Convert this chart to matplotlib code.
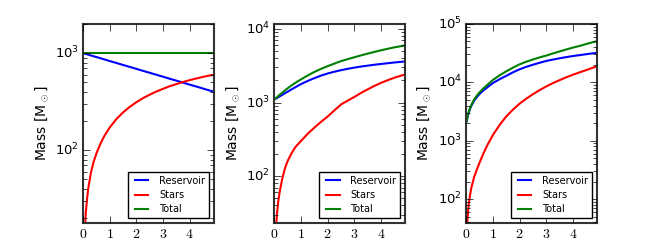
import matplotlib
matplotlib.use("Agg")
import matplotlib.pyplot as plt
from matplotlib.ticker import FuncFormatter, LogFormatterMathtext

plt.style.use("classic")
plt.rcParams["mathtext.fontset"] = "cm"

# time samples
t = [0.02, 0.05, 0.1, 0.15, 0.2, 0.3, 0.4, 0.5, 0.65, 0.8, 1.0, 1.25, 1.5, 1.75,
     2.0, 2.25, 2.5, 2.75, 3.0, 3.25, 3.5, 3.75, 4.0, 4.25, 4.5, 4.75, 4.9]

# panel 1
res1 = [996, 991, 982, 972, 963, 945, 928, 911, 886, 861, 829, 791, 755, 721,
        688, 656, 627, 598, 571, 544, 520, 496, 473, 452, 431, 411, 402]
stars1 = [4, 9, 22, 31, 41, 59, 76, 92, 116, 140, 171, 209, 245, 279,
          312, 344, 373, 402, 429, 456, 480, 504, 527, 548, 569, 589, 598]
total1 = [1000] * len(t)

# panel 2
res2 = [1110, 1125, 1150, 1180, 1210, 1270, 1340, 1400, 1510, 1620, 1780, 1960, 2140, 2320,
        2480, 2620, 2750, 2870, 2980, 3080, 3170, 3260, 3340, 3420, 3500, 3570, 3610]
stars2 = [6, 15, 30, 45, 60, 92, 127, 160, 205, 250, 300, 375, 455, 545,
          645, 780, 940, 1060, 1190, 1350, 1510, 1680, 1850, 2010, 2170, 2320, 2400]
total2 = [1115, 1140, 1180, 1225, 1270, 1360, 1460, 1560, 1710, 1860, 2060, 2330, 2600, 2860,
          3120, 3380, 3650, 3880, 4120, 4370, 4620, 4870, 5120, 5370, 5620, 5830, 5930]

# panel 3
res3 = [2150, 2500, 3050, 3550, 4000, 4850, 5600, 6300, 7300, 8250, 9700, 11300, 12900, 14800,
        16700, 18400, 20000, 21600, 23200, 24500, 25800, 27000, 28200, 29200, 30300, 31400, 31900]
stars3 = [20, 45, 85, 120, 160, 240, 320, 420, 610, 850, 1250, 1850, 2600, 3400,
          4300, 5250, 6250, 7350, 8500, 9700, 10900, 12200, 13500, 14800, 16200, 17800, 18800]
total3 = [2170, 2545, 3135, 3670, 4160, 5090, 5920, 6720, 7910, 9100, 10950, 13150, 15400, 17800,
          20300, 22500, 24600, 26700, 28700, 31200, 33800, 36500, 39300, 42000, 45300, 48600, 50500]

series = [(res1, stars1, total1), (res2, stars2, total2), (res3, stars3, total3)]
ylims = [(17.7, 2000), (23, 11700), (39, 1e5)]
lefts = [0.125, 0.413, 0.702]

fig = plt.figure(figsize=(6.64, 2.49), dpi=100)
fig.patch.set_facecolor("white")

for (res, stars, total), yl, left in zip(series, ylims, lefts):
    ax = fig.add_axes([left, 0.104, 0.197, 0.80])
    ax.plot(t, res, color="b", lw=1.5, label="Reservoir")
    ax.plot(t, stars, color="r", lw=1.5, label="Stars")
    ax.plot(t, total, color="g", lw=1.5, label="Total")
    ax.set_yscale("log")
    ax.set_xlim(0, 4.9)
    ax.set_ylim(*yl)
    ax.set_xticks([0, 1, 2, 3, 4])
    ax.xaxis.set_major_formatter(FuncFormatter(lambda v, p: r"$%d$" % v))
    ax.yaxis.set_major_formatter(LogFormatterMathtext())
    ax.tick_params(axis="x", labelsize=10, pad=3)
    ax.tick_params(axis="y", labelsize=9.5, pad=3)
    ax.tick_params(which="major", length=5)
    ax.tick_params(which="minor", length=3)
    for sp in ax.spines.values():
        sp.set_linewidth(1.5)
        sp.set_color("#333333")
    ax.set_ylabel(r"Mass [M$_\odot$]", fontsize=10, labelpad=3)
    ax.set_xlabel("t [Myr]", fontsize=10, labelpad=6)
    leg = ax.legend(loc="lower right", fontsize=7, handlelength=2.0,
                    labelspacing=0.45, borderpad=0.4, fancybox=False)
    leg.get_frame().set_linewidth(1.0)

fig.savefig("out.png", dpi=100)
